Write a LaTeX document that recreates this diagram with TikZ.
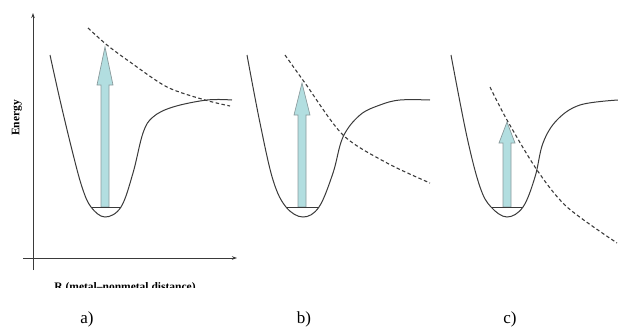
\documentclass[tikz,border=0pt]{standalone}
\usepackage{fontspec}
\setmainfont{Liberation Serif}
\usetikzlibrary{arrows.meta}
\definecolor{curvegray}{HTML}{3A3A3A}
\definecolor{arrowfill}{HTML}{B2DEE0}
\definecolor{arrowedge}{HTML}{8A9A9C}

% vertical excitation arrow: x, foot, head base, tip
\newcommand{\excite}[4]{%
  \draw[excitation] (#1-4,#2) -- (#1-4,#3) -- (#1-8,#3) -- (#1,#4)
    -- (#1+8,#3) -- (#1+4,#3) -- (#1+4,#2) -- cycle;}

\begin{document}
\begin{tikzpicture}[x=1pt, y=-1pt,
    ground/.style={draw=curvegray, line width=1pt},
    excited/.style={draw=curvegray, line width=1.1pt, dash pattern=on 3.5pt off 2.5pt},
    excitation/.style={fill=arrowfill, draw=arrowedge, line width=0.7pt},
    axis/.style={draw=curvegray, line width=0.9pt, -{Stealth[length=5pt, width=3.5pt]}},
    panel/.style={font=\fontsize{17}{19}\selectfont}]
  \useasboundingbox (0,0) rectangle (618,335);

  % axes of panel a
  \draw[axis] (33,270) -- (33,13);
  \draw[axis] (23,258) -- (237,258);
  \node[rotate=90, font=\fontsize{11.5}{13}\bfseries\selectfont] (energy) at (17,118) {Energy};
  \begin{scope}
    \clip (0,0) rectangle (618,287.5);
    \node[font=\fontsize{11.5}{13}\bfseries\selectfont, anchor=base] (dist) at (125,290) {R (metal–nonmetal distance)};
  \end{scope}

  % a)
  \excite{105}{207}{85}{47}
  \draw[ground] plot[smooth, tension=0.6] coordinates {(50,55) (60,100) (72,150) (82,187) (91,207)
    (105,217) (121,207) (133,173) (143,133) (153,117) (173,107) (207,100) (232,100)};
  \draw[ground] (91,207) -- (121,207);
  \draw[excited] plot[smooth] coordinates {(88,28) (107,45) (130,62) (167,87) (205,100) (230,106)};

  % b)
  \excite{302}{207}{115}{83}
  \draw[ground] plot[smooth, tension=0.6] coordinates {(247,55) (260,123) (273,180) (286,207)
    (303,217) (319,207) (333,173) (343,137) (360,115) (380,105) (400,100) (430,100)};
  \draw[ground] (286,207) -- (319,207);
  \draw[excited] plot[smooth] coordinates {(285,55) (305,83) (343,135) (387,163) (430,183)};

  % c)
  \excite{507}{207}{143}{122}
  \draw[ground] plot[smooth, tension=0.6] coordinates {(451,55) (467,137) (480,187) (491,207)
    (507,217) (523,207) (535,177) (543,143) (557,120) (580,105) (618,100)};
  \draw[ground] (491,207) -- (523,207);
  \draw[excited] plot[smooth] coordinates {(490,87) (507,120) (537,170) (567,207) (617,243)};

  % panel labels
  \node[panel] (lbla) at (87,319) {a)};
  \node[panel] (lblb) at (304,319) {b)};
  \node[panel] (lblc) at (510,319) {c)};
\end{tikzpicture}
\end{document}
